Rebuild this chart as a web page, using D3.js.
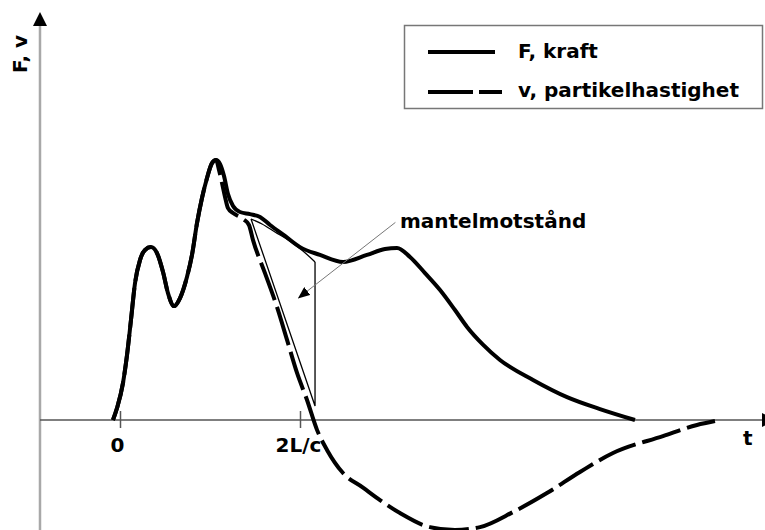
<!DOCTYPE html>
<html>
<head>
<meta charset="utf-8">
<script src="https://cdn.jsdelivr.net/npm/d3@7"></script>
<style>
  html, body { margin: 0; padding: 0; background: #fff; }
  svg { display: block; }
  text { font-family: "DejaVu Sans", sans-serif; font-weight: bold; font-size: 20px; fill: #000; }
</style>
</head>
<body>
<svg id="chart" width="765" height="530"></svg>
<script>
// Time axis: t in units where 2L/c = 2
const tTicks = [0, 2];
const tTickLabels = ["0", "2L/c"];

// Force F(t) at the pile head
const forceT = [-0.078, -0.033, 0.033, 0.078, 0.122, 0.167, 0.222, 0.278, 0.344, 0.411, 0.478, 0.533, 0.6,
  0.667, 0.744, 0.8, 0.856, 0.911, 0.967, 1.022, 1.067, 1.111, 1.156, 1.2, 1.256, 1.333, 1.444, 1.556,
  1.667, 1.833, 2.0, 2.222, 2.478, 2.744, 2.944, 3.078, 3.222, 3.389, 3.556, 3.722, 3.856, 4.033,
  4.222, 4.589, 4.967, 5.333, 5.722];
const forceF = [0, 0.46, 1.42, 2.5, 3.85, 5.27, 6.15, 6.54, 6.65, 6.42, 5.69, 4.88, 4.38,
  4.69, 5.5, 6.35, 7.58, 8.54, 9.31, 9.88, 10.0, 9.85, 9.38, 8.69, 8.23, 8.0, 7.92, 7.81,
  7.5, 7.08, 6.65, 6.35, 6.08, 6.35, 6.58, 6.62, 6.27, 5.65, 5.0, 4.23, 3.58, 2.9,
  2.31, 1.54, 0.88, 0.42, 0];

// Particle velocity v(t), scaled by impedance
const velT = [-0.078, -0.033, 0.033, 0.078, 0.122, 0.167, 0.222, 0.278, 0.344, 0.411, 0.478, 0.533, 0.6,
  0.667, 0.744, 0.8, 0.856, 0.911, 0.967, 1.022, 1.067, 1.1, 1.133, 1.167, 1.2, 1.256, 1.367, 1.433,
  1.478, 1.611, 1.744, 1.856, 1.967, 2.078, 2.189, 2.3, 2.478, 2.7, 2.889, 3.111, 3.444, 3.722,
  4.0, 4.367, 4.744, 5.111, 5.478, 6.033, 6.411, 6.611];
const velV = [0, 0.46, 1.42, 2.5, 3.85, 5.27, 6.15, 6.54, 6.65, 6.42, 5.69, 4.88, 4.38,
  4.69, 5.5, 6.35, 7.58, 8.54, 9.31, 9.88, 10.0, 9.62, 9.12, 8.58, 8.15, 7.96, 7.73, 7.5,
  6.92, 5.65, 4.35, 3.08, 1.81, 0.77, -0.38, -1.15, -2.04, -2.6, -3.08, -3.58, -4.12, -4.23,
  -4.12, -3.54, -2.81, -2.0, -1.27, -0.62, -0.19, -0.04];

// Shaft resistance wedge: upper edge, then straight legs
const shaftT = [1.456, 1.578, 1.722, 1.889, 2.033, 2.167];
const shaftF = [7.73, 7.54, 7.23, 6.88, 6.5, 6.08];
const shaftFoot = [2.167, 0.54];

const legendLabels = ["F, kraft", "v, partikelhastighet"];
const noteLabel = "mantelmotstånd";
const notePos = [3.111, 7.38];
const noteTip = [1.985, 4.7];
const noteStart = [3.06, 7.6];
const yLabel = "F, v";
const xLabel = "t";

const svg = d3.select("#chart");
const W = 765, H = 530;

const x = d3.scaleLinear().domain([0, 2]).range([120, 300]);
const y = d3.scaleLinear().domain([0, 10]).range([420, 160]);

const x0 = x(-0.889);   // vertical axis position

// arrow marker for the annotation leader
const defs = svg.append("defs");
defs.append("marker")
  .attr("id", "noteArrow").attr("viewBox", "0 0 12 10")
  .attr("refX", 11).attr("refY", 5)
  .attr("markerWidth", 12).attr("markerHeight", 10)
  .attr("markerUnits", "userSpaceOnUse").attr("orient", "auto")
  .append("path").attr("d", "M0,0L12,5L0,10Z").attr("fill", "#000");

// vertical axis
svg.append("line")
  .attr("x1", x0).attr("x2", x0).attr("y1", H).attr("y2", 24)
  .attr("stroke", "#a8a8a8").attr("stroke-width", 2.5);
svg.append("path")
  .attr("d", `M${x0},12L${x0 + 7},26L${x0 - 7},26Z`).attr("fill", "#000");

// horizontal axis via d3.axisBottom
const axisG = svg.append("g").attr("transform", `translate(0,${y(0)})`)
  .call(d3.axisBottom(x).tickValues(tTicks)
    .tickFormat((d, i) => tTickLabels[i]).tickSizeOuter(0).tickSize(8));
axisG.select(".domain").remove();
axisG.selectAll(".tick line").attr("y1", -9).attr("y2", 8)
  .attr("stroke", "#555").attr("stroke-width", 1.5);
axisG.selectAll(".tick text")
  .attr("y", 32).attr("dy", 0)
  .attr("font-family", "DejaVu Sans").attr("font-size", 20)
  .attr("font-weight", "bold").attr("fill", "#000")
  .attr("dx", (d, i) => i === 0 ? -3 : -2);
svg.append("line")
  .attr("x1", x0).attr("x2", W - 3).attr("y1", y(0)).attr("y2", y(0))
  .attr("stroke", "#555").attr("stroke-width", 1.5);
svg.append("path")
  .attr("d", `M${W - 3},${y(0) - 7}L${W + 11},${y(0)}L${W - 3},${y(0) + 7}Z`).attr("fill", "#000");

// axis labels
svg.append("text")
  .attr("transform", `translate(27,73) rotate(-90)`)
  .text(yLabel);
svg.append("text").attr("x", 743).attr("y", 445).text(xLabel);

const smooth = d3.line().x(d => x(d[0])).y(d => y(d[1])).curve(d3.curveMonotoneX);
const straight = d3.line().x(d => x(d[0])).y(d => y(d[1]));

// shaft resistance wedge (thin outline)
const shaftPts = shaftT.map((t, i) => [t, shaftF[i]]);
svg.append("path").attr("d", smooth(shaftPts))
  .attr("fill", "none").attr("stroke", "#000").attr("stroke-width", 1.3);
svg.append("path")
  .attr("d", straight([shaftPts[shaftPts.length - 1], shaftFoot, shaftPts[0]]))
  .attr("fill", "none").attr("stroke", "#000").attr("stroke-width", 1.3);

// force curve
svg.append("path").attr("d", smooth(forceT.map((t, i) => [t, forceF[i]])))
  .attr("fill", "none").attr("stroke", "#000").attr("stroke-width", 4)
  .attr("stroke-linejoin", "round");

// velocity curve
svg.append("path").attr("d", smooth(velT.map((t, i) => [t, velV[i]])))
  .attr("fill", "none").attr("stroke", "#000").attr("stroke-width", 4)
  .attr("stroke-dasharray", "40,7");

// annotation
svg.append("line")
  .attr("x1", x(noteStart[0])).attr("y1", y(noteStart[1]))
  .attr("x2", x(noteTip[0])).attr("y2", y(noteTip[1]))
  .attr("stroke", "#777").attr("stroke-width", 1)
  .attr("marker-end", "url(#noteArrow)");
svg.append("text").attr("x", x(notePos[0])).attr("y", y(notePos[1])).text(noteLabel);

// legend
const lg = svg.append("g");
lg.append("rect").attr("x", 404.5).attr("y", 25.5).attr("width", 358).attr("height", 83)
  .attr("fill", "#fff").attr("stroke", "#777").attr("stroke-width", 1.5);
lg.append("line").attr("x1", 428).attr("x2", 495).attr("y1", 52).attr("y2", 52)
  .attr("stroke", "#000").attr("stroke-width", 4);
lg.append("line").attr("x1", 428).attr("x2", 502).attr("y1", 92).attr("y2", 92)
  .attr("stroke", "#000").attr("stroke-width", 4).attr("stroke-dasharray", "45,6");
lg.selectAll("text.lab").data(legendLabels).enter().append("text")
  .attr("class", "lab").attr("x", 518).attr("y", (d, i) => i === 0 ? 58 : 97).text(d => d);
</script>
</body>
</html>
